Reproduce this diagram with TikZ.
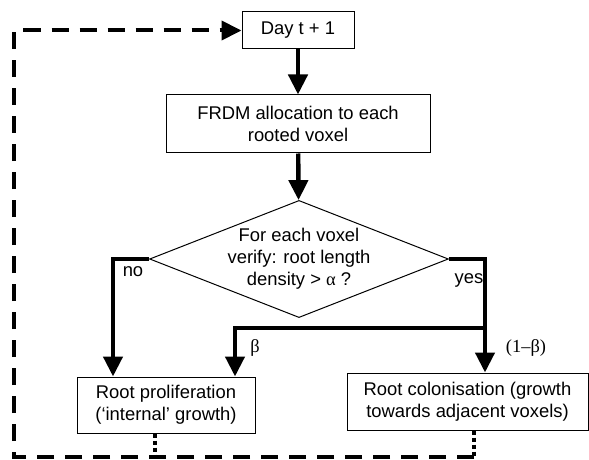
\documentclass[tikz,border=0pt]{standalone}
\usepackage{fontspec}
\setmainfont{Liberation Sans}
\newfontfamily\greekfont{Liberation Serif}
\usetikzlibrary{arrows.meta,calc,shapes.geometric}

\begin{document}
\begin{tikzpicture}[x=0.5pt,y=-0.5pt,
    txt/.style={font=\fontsize{9.2}{11}\selectfont},
    box/.style={txt,draw,line width=0.5pt,align=center,inner sep=0pt},
    flow/.style={line width=2.2pt,-{Triangle[length=10pt,width=9.5pt]}},
    loopline/.style={line width=2pt,dash pattern=on 8.5pt off 5.5pt,-{Triangle[length=10pt,width=9.5pt]}},
    dotline/.style={line width=2pt,dash pattern=on 2pt off 1.5pt}]
            \useasboundingbox (0,0) rectangle (589,460);
            \node[box,minimum width=56pt,minimum height=18.5pt] (day) at (298,30.5) {Day t + 1};
            \node[box,minimum width=132pt,minimum height=29pt] (frdm) at (298,124) {FRDM allocation to each\\rooted voxel};
            \node[box,shape=diamond,aspect=2.55,minimum width=148pt,minimum height=58pt] (test) at (299,259) {For each voxel\\verify: root length\\density > {\greekfont α} ?};
            \node[box,minimum width=89pt,minimum height=28pt] (prolif) at (166,405) {Root proliferation\\(‘internal’ growth)};
            \node[box,minimum width=120.5pt,minimum height=28.5pt] (colon) at (467.5,401.5) {Root colonisation (growth\\towards adjacent voxels)};
            \coordinate (split) at (485,328);
            \coordinate (corner) at (14,457);
            \draw[flow] (day) -- (frdm);
            \draw[flow] (frdm) -- (test);
            \draw[flow] (test.west) -| ([xshift=-26.5pt]prolif.north);
            \draw[flow] (test.east) -| ([xshift=8.75pt]colon.north);
            \draw[flow] (split) -| ([xshift=34.5pt]prolif.north);
            \node[txt] (no) at (133,272) {no};
            \node[txt] (yes) at (469,280) {yes};
            \node[txt,font=\fontsize{9.2}{11}\greekfont] (beta) at (255,348) {β};
            \node[txt,font=\fontsize{9.2}{11}\greekfont] (rest) at (526,348) {(1–β)};
            \draw[dotline] ([xshift=-5.5pt]prolif.south) -- ([xshift=-5.5pt]prolif.south |- corner);
            \draw[dotline] ([xshift=3.25pt]colon.south) -- ([xshift=3.25pt]colon.south |- corner);
            \draw[loopline] ([xshift=3.25pt]colon.south |- corner) -- (corner) |- (day.west);
          \end{tikzpicture}
\end{document}
